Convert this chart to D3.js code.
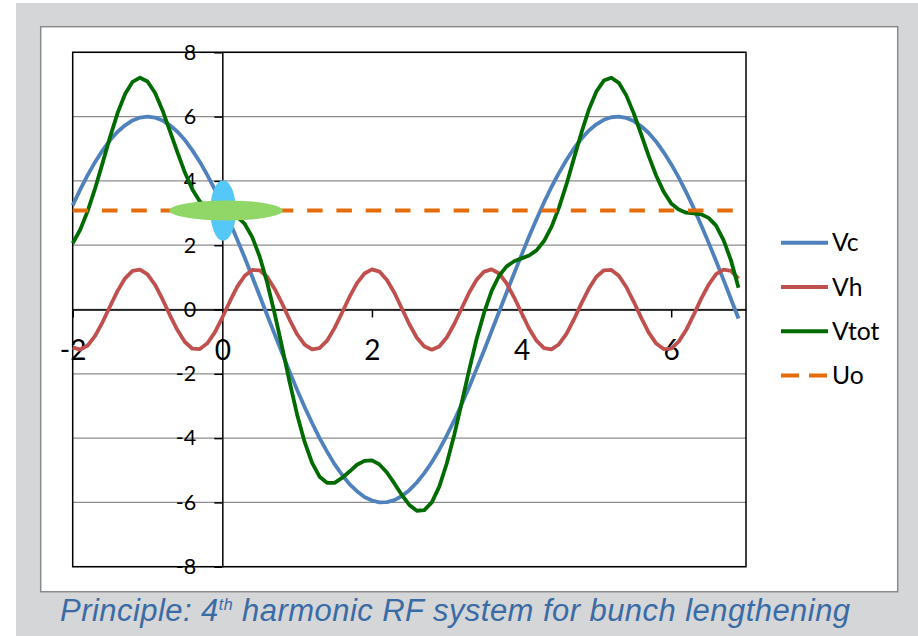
<!DOCTYPE html>
<html>
<head>
<meta charset="utf-8">
<script src="https://cdn.jsdelivr.net/npm/d3@7"></script>
<style>
  body { margin: 0; background: #fff; }
  svg { display: block; }
</style>
</head>
<body>
<div class="chart"></div>
<script>
// sample positions (phase, rad)
const xs = [-2.0,-1.9,-1.8,-1.7,-1.6,-1.5,-1.4,-1.3,-1.2,-1.1,
            -1.0,-0.9,-0.8,-0.7,-0.6,-0.5,-0.4,-0.3,-0.2,-0.1,
             0.0, 0.1, 0.2, 0.3, 0.4, 0.5, 0.6, 0.7, 0.8, 0.9,
             1.0, 1.1, 1.2, 1.3, 1.4, 1.5, 1.6, 1.7, 1.8, 1.9,
             2.0, 2.1, 2.2, 2.3, 2.4, 2.5, 2.6, 2.7, 2.8, 2.9,
             3.0, 3.1, 3.2, 3.3, 3.4, 3.5, 3.6, 3.7, 3.8, 3.9,
             4.0, 4.1, 4.2, 4.3, 4.4, 4.5, 4.6, 4.7, 4.8, 4.9,
             5.0, 5.1, 5.2, 5.3, 5.4, 5.5, 5.6, 5.7, 5.8, 5.9,
             6.0, 6.1, 6.2, 6.3, 6.4, 6.5, 6.6, 6.7, 6.8, 6.9];

const vc = [3.24,3.73,4.18,4.59,4.95,5.27,5.53,5.73,5.88,5.97,
            6.00,5.97,5.88,5.73,5.53,5.27,4.95,4.59,4.18,3.73,
            3.24,2.72,2.17,1.61,1.02,0.42,-0.18,-0.77,-1.36,-1.94,
            -2.50,-3.03,-3.53,-4.00,-4.42,-4.81,-5.14,-5.43,-5.65,-5.83,
            -5.94,-6.00,-5.99,-5.93,-5.80,-5.62,-5.38,-5.09,-4.75,-4.36,
            -3.92,-3.45,-2.94,-2.41,-1.84,-1.27,-0.67,-0.07,0.53,1.12,
            1.70,2.27,2.81,3.33,3.81,4.25,4.65,5.01,5.31,5.57,
            5.76,5.90,5.98,6.00,5.96,5.86,5.70,5.49,5.22,4.89,
            4.52,4.11,3.65,3.16,2.63,2.08,1.51,0.92,0.32,-0.28];

const vh = [-1.18,-1.25,-1.12,-0.82,-0.39,0.10,0.58,0.97,1.20,1.24,
            1.09,0.77,0.32,-0.18,-0.64,-1.01,-1.22,-1.23,-1.05,-0.71,
            -0.25,0.25,0.71,1.05,1.23,1.22,1.01,0.64,0.18,-0.32,
            -0.77,-1.09,-1.24,-1.20,-0.97,-0.58,-0.10,0.39,0.82,1.12,
            1.25,1.18,0.92,0.52,0.03,-0.46,-0.88,-1.15,-1.25,-1.15,
            -0.87,-0.45,0.04,0.53,0.93,1.18,1.25,1.12,0.81,0.38,
            -0.11,-0.59,-0.97,-1.20,-1.24,-1.08,-0.76,-0.31,0.19,0.65,
            1.02,1.22,1.23,1.05,0.70,0.24,-0.26,-0.72,-1.06,-1.23,
            -1.22,-1.00,-0.64,-0.17,0.33,0.77,1.10,1.24,1.20,0.96];

const vtot = [2.06,2.48,3.06,3.77,4.56,5.37,6.11,6.70,7.08,7.21,
              7.09,6.74,6.20,5.55,4.89,4.26,3.73,3.36,3.13,3.02,
              2.99,2.97,2.88,2.66,2.25,1.64,0.83,-0.13,-1.18,-2.26,
              -3.27,-4.12,-4.77,-5.20,-5.39,-5.39,-5.24,-5.04,-4.83,-4.71,
              -4.69,-4.82,-5.07,-5.41,-5.77,-6.08,-6.26,-6.24,-6.00,-5.51,
              -4.79,-3.90,-2.90,-1.88,-0.91,-0.09,0.58,1.05,1.34,1.50,
              1.59,1.68,1.84,2.13,2.57,3.17,3.89,4.70,5.50,6.22,
              6.78,7.12,7.21,7.05,6.66,6.10,5.44,4.77,4.16,3.66,
              3.30,3.11,3.01,2.99,2.96,2.85,2.61,2.16,1.52,0.68];

const uo = 3.08;

const yTicks = [-8, -6, -4, -2, 0, 2, 4, 6, 8];
const xTicks = [-2, 0, 2, 4, 6];
const seriesNames = ["Vc", "Vh", "Vtot", "Uo"];
const seriesColors = ["#4f81bd", "#c0504d", "#006b00", "#e46c0a"];

// bunch (blue) and lengthened bunch (green) shapes, in data units
const bunch = {cx: 0.01, cy: 3.08, rx: 0.171, ry: 0.94};
const longBunch = {cx: 0.05, cy: 3.08, rx: 0.758, ry: 0.31};

const W = 918, H = 636;
const plot = {left: 72.7, top: 52.3, right: 746, bottom: 566.7};

const svg = d3.select(".chart").append("svg")
    .attr("width", W)
    .attr("height", H);

// slide background and chart box
svg.append("rect")
    .attr("x", 16).attr("y", 3)
    .attr("width", W - 16).attr("height", H - 3)
    .attr("fill", "#d5d6d8");

svg.append("rect")
    .attr("x", 40.7).attr("y", 26.7)
    .attr("width", 857).attr("height", 565)
    .attr("fill", "#fff")
    .attr("stroke", "#8a8a8a")
    .attr("stroke-width", 1.5);

var x = d3.scaleLinear().domain([-2, 7]).range([plot.left, plot.right]);
var y = d3.scaleLinear().domain([-8, 8]).range([plot.bottom, plot.top]);

// horizontal gridlines
svg.append("g")
    .selectAll("line")
    .data(yTicks)
    .enter().append("line")
    .attr("x1", plot.left).attr("x2", plot.right)
    .attr("y1", d => y(d)).attr("y2", d => y(d))
    .attr("stroke", "#8c8c8c")
    .attr("stroke-width", 1.3);

// plot border
svg.append("rect")
    .attr("x", plot.left).attr("y", plot.top)
    .attr("width", plot.right - plot.left)
    .attr("height", plot.bottom - plot.top)
    .attr("fill", "none")
    .attr("stroke", "#000")
    .attr("stroke-width", 1.5);

// plain hyphen minus, like the spreadsheet labels
const fmt = d => String(d);

// y axis crosses at x = 0
const yAxis = svg.append("g")
    .attr("transform", `translate(${x(0)},0)`)
    .call(d3.axisLeft(y).tickValues(yTicks).tickFormat(fmt).tickSize(8).tickSizeOuter(0).tickPadding(18))
    .attr("font-family", "Lato")
    .attr("font-size", 21.5);

// x axis crosses at y = 0
const xAxis = svg.append("g")
    .attr("transform", `translate(0,${y(0)})`)
    .call(d3.axisBottom(x).tickValues(xTicks).tickFormat(fmt).tickSize(8).tickSizeOuter(0).tickPadding(22.5))
    .attr("font-family", "Lato")
    .attr("font-size", 28);

svg.selectAll(".domain, .tick line")
    .attr("stroke", "#000")
    .attr("stroke-width", 1.5);
svg.selectAll(".tick text").attr("fill", "#000");

// series
const line = d3.line()
    .x((d, i) => x(xs[i]))
    .y(d => y(d));

[vc, vh, vtot].forEach((values, k) => {
  svg.append("path")
      .datum(values)
      .attr("d", line)
      .attr("fill", "none")
      .attr("stroke", seriesColors[k])
      .attr("stroke-width", 3.8)
      .attr("stroke-linejoin", "round");
});

svg.append("line")
    .attr("x1", x(xs[0])).attr("x2", x(xs[xs.length - 1]))
    .attr("y1", y(uo)).attr("y2", y(uo))
    .attr("stroke", seriesColors[3])
    .attr("stroke-width", 4.2)
    .attr("stroke-dasharray", "15.5,13.8");

// bunch shapes
[bunch, longBunch].forEach((e, k) => {
  svg.append("ellipse")
      .attr("cx", x(e.cx)).attr("cy", y(e.cy))
      .attr("rx", x(e.rx) - x(0))
      .attr("ry", y(0) - y(e.ry))
      .attr("fill", k === 0 ? "#55c8f8" : "#90d768");
});

// legend
const legend = svg.append("g")
    .selectAll("g")
    .data(seriesNames)
    .enter().append("g")
    .attr("transform", (d, i) => `translate(781,${242.7 + i * 44.3})`);

legend.append("line")
    .attr("x1", 0).attr("x2", 47)
    .attr("stroke", (d, i) => seriesColors[i])
    .attr("stroke-width", 4)
    .attr("stroke-dasharray", (d, i) => i === 3 ? "18,10" : null);

legend.append("text")
    .attr("x", 51)
    .attr("dy", "0.35em")
    .attr("font-family", "Lato")
    .attr("font-size", 24.7)
    .attr("fill", "#000")
    .text(d => d);

// caption
const caption = svg.append("text")
    .attr("x", 60)
    .attr("y", 621)
    .attr("font-family", "Liberation Sans")
    .attr("font-style", "italic")
    .attr("font-size", 31)
    .attr("letter-spacing", 0.45)
    .attr("fill", "#3a6ba5");
caption.append("tspan").text("Principle: 4");
caption.append("tspan").attr("font-size", 16).attr("dy", -11).text("th");
caption.append("tspan").attr("dy", 11).text(" harmonic RF system for bunch lengthening");
</script>
</body>
</html>
